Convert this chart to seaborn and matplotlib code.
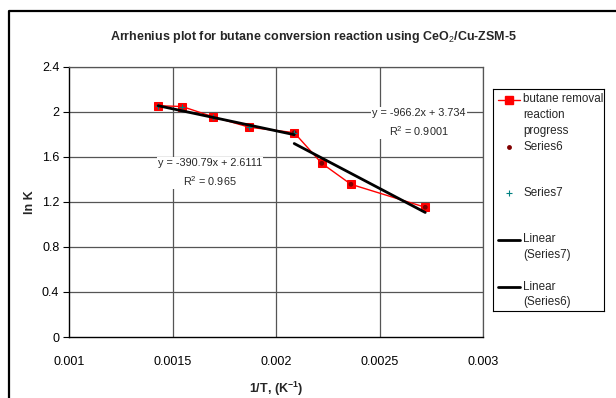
import matplotlib
matplotlib.use("Agg")
import matplotlib.pyplot as plt
import seaborn as sns
import pandas as pd
import numpy as np
from matplotlib.lines import Line2D

# ---- data ----
inv_T = [0.001431, 0.001547, 0.001694, 0.001871, 0.002088, 0.002221, 0.002362, 0.002721]
ln_k = [2.052, 2.045, 1.955, 1.861, 1.813, 1.541, 1.355, 1.151]
series7_idx = [0, 1, 2, 3, 4]
series6_idx = [4, 5, 6, 7]
fit_slopes = [-390.79, -966.2]
fit_intercepts = [2.6111, 3.734]
fit_r2 = ["0.965", "0.9001"]
fit_labels = ["y = -390.79x + 2.6111", "y = -966.2x + 3.734"]
x_ticks = [0.001, 0.0015, 0.002, 0.0025, 0.003]
x_ticklabels = ["0.001", "0.0015", "0.002", "0.0025", "0.003"]
y_ticks = [0, 0.4, 0.8, 1.2, 1.6, 2.0, 2.4]
y_ticklabels = ["0", "0.4", "0.8", "1.2", "1.6", "2", "2.4"]
title = "Arrhenius plot for butane conversion reaction using CeO$_2$/Cu-ZSM-5"
legend_labels = ["butane removal\nreaction\nprogress", "Series6", "Series7",
                 "Linear\n(Series7)", "Linear\n(Series6)"]

sns.set_theme(style="white")
plt.rcParams["font.family"] = ["Liberation Sans", "DejaVu Sans"]
plt.rcParams["mathtext.fontset"] = "custom"
plt.rcParams["mathtext.rm"] = "Liberation Sans"
plt.rcParams["mathtext.bf"] = "Liberation Sans:bold"

W, H = 616, 398
fig = plt.figure(figsize=(W / 100, H / 100), dpi=100)
fig.patch.set_facecolor("white")

def fx(px):
    return px / W

def fy(py):
    return 1 - py / H

L, R, T, B = 69, 483, 66.5, 337
ax = fig.add_axes([fx(L), fy(B), fx(R - L), fy(T) - fy(B)])
ax.set_facecolor("white")

df = pd.DataFrame({"x": inv_T, "y": ln_k})
df7 = df.iloc[series7_idx]
df6 = df.iloc[series6_idx]

# grid
for yv in y_ticks[1:]:
    ax.axhline(yv, color="#555555", lw=0.9, zorder=0)
for xv in x_ticks[1:]:
    ax.axvline(xv, color="#555555", lw=0.9, zorder=0)

# main series
sns.lineplot(data=df, x="x", y="y", ax=ax, color="#FF0000", lw=1.0, sort=False,
             marker="s", markersize=6, markerfacecolor="#FF0000",
             markeredgecolor="#FF0000", zorder=3, legend=False)
# series markers
sns.scatterplot(data=df6, x="x", y="y", ax=ax, color="#800000", s=12,
                marker="o", edgecolor="none", zorder=4, legend=False)
sns.scatterplot(data=df7, x="x", y="y", ax=ax, color="#008080", s=14,
                marker="+", linewidth=0.8, zorder=4, legend=False)

# trendlines
for sub, m, c in [(df7, fit_slopes[0], fit_intercepts[0]),
                  (df6, fit_slopes[1], fit_intercepts[1])]:
    xs = np.array([sub["x"].min(), sub["x"].max()])
    tdf = pd.DataFrame({"x": xs, "y": m * xs + c})
    sns.lineplot(data=tdf, x="x", y="y", ax=ax, color="black", lw=2.0, zorder=5,
                 legend=False)

ax.set_xlim(0.001, 0.003)
ax.set_ylim(0, 2.4)
ax.set_xticks(x_ticks)
ax.set_xticklabels(x_ticklabels)
ax.set_yticks(y_ticks)
ax.set_yticklabels(y_ticklabels)
ax.tick_params(axis="x", length=0, pad=14, labelsize=9, colors="black")
ax.tick_params(axis="y", length=4, width=0.8, direction="out", left=True,
               pad=3, labelsize=9, colors="black")
ax.spines["left"].set_color("black")
ax.spines["bottom"].set_color("black")
ax.spines["left"].set_linewidth(1.0)
ax.spines["bottom"].set_linewidth(1.0)
ax.spines["top"].set_color("#555555")
ax.spines["right"].set_color("#555555")
ax.spines["top"].set_linewidth(0.9)
ax.spines["right"].set_linewidth(0.9)
ax.set_xlabel("1/T, (K$^{\\mathbf{-1}}$)", fontsize=9, fontweight="bold",
              labelpad=8)
ax.set_ylabel("ln K", fontsize=9, fontweight="bold", labelpad=4)

# equation labels
ax.text(0.001681, 1.455, fit_labels[0] + "\nR$^2$ = " + fit_r2[0],
        ha="center", va="center", fontsize=7.8, linespacing=1.55, zorder=6,
        bbox=dict(boxstyle="square,pad=0.1", fc="white", ec="none"))
ax.text(0.002691, 1.900, fit_labels[1] + "\nR$^2$ = " + fit_r2[1],
        ha="center", va="center", fontsize=7.8, linespacing=1.55, zorder=6,
        bbox=dict(boxstyle="square,pad=0.1", fc="white", ec="none"))

fig.text(fx(314), fy(37), title, ha="center", va="center", fontsize=9,
         fontweight="bold")

# legend (drawn in its own box)
lx0, ly0, lx1, ly1 = 493, 89, 604, 311
lax = fig.add_axes([fx(lx0), fy(ly1), fx(lx1 - lx0), fy(ly0) - fy(ly1)])
lax.set_xlim(0, lx1 - lx0)
lax.set_ylim(ly1 - ly0, 0)
lax.set_xticks([])
lax.set_yticks([])
for s in lax.spines.values():
    s.set_color("black")
    s.set_linewidth(0.8)
lax.set_facecolor("white")
handle_x = [5, 27]
text_x = 30
rows = [11, 58, 104, 151, 198]
lax.plot(handle_x, [rows[0]] * 2, color="#FF0000", lw=1.0)
lax.plot([16], [rows[0]], marker="s", ms=6, color="#FF0000")
lax.plot([16], [rows[1]], marker="o", ms=3.5, color="#800000", mec="none")
lax.plot([16], [rows[2]], marker="+", ms=5, color="#008080", mew=0.8)
lax.plot(handle_x, [rows[3]] * 2, color="black", lw=2.0)
lax.plot(handle_x, [rows[4]] * 2, color="black", lw=2.0)
for r, lab in zip(rows, legend_labels):
    lax.text(text_x, r - 6.5, lab, ha="left", va="top", fontsize=8.4,
             linespacing=1.4)

# outer frame (top and left edges visible)
fig.add_artist(Line2D([fx(9), fx(9), 1.05], [-0.05, fy(11), fy(11)],
                      transform=fig.transFigure, color="black", lw=1.6))

fig.savefig("out.png", dpi=100)
